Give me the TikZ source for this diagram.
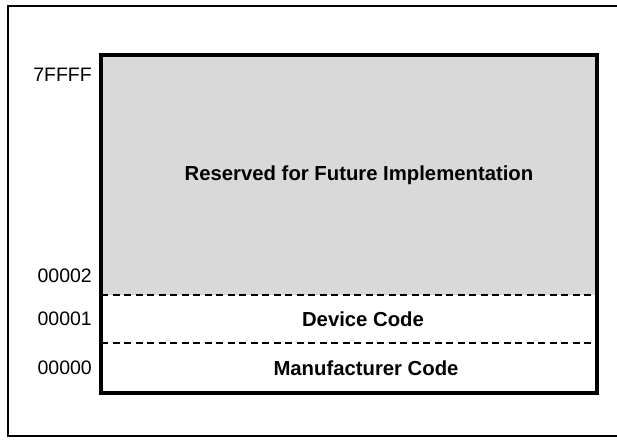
\documentclass[tikz,border=0pt]{standalone}
\usepackage{fontspec}
\setmainfont{Liberation Sans}
\usetikzlibrary{positioning}

\begin{document}
\begin{tikzpicture}[x=1pt,y=-1pt]
  \tikzstyle{region}=[rectangle,inner sep=0,minimum width=496,outer sep=0]
  \tikzstyle{caption}=[font=\fontsize{20.3}{23}\selectfont\bfseries]
  \tikzstyle{addr}=[font=\fontsize{19.5}{22}\selectfont,inner sep=1pt,anchor=east]
  \tikzstyle{split}=[dash pattern=on 7pt off 4.5pt,line width=1.3pt]
  \useasboundingbox (0,0) rectangle (617,439);
  \draw[line width=2.5pt] (624,6) -- (8,6) -- (8,436) -- (624,436);
  \node[region,fill=black!15,minimum height=240] (res) at (349,175) {};
  \node[region,minimum height=48,below=0 of res] (dev) {};
  \node[region,minimum height=50,below=0 of dev] (man) {};
  \draw[line width=3.8pt] (res.north west) rectangle (man.south east);
  \draw[split] (res.south west) -- (res.south east);
  \draw[split] (dev.south west) -- (dev.south east);
  \node[caption] (restext) at ([xshift=10]res.center) {Reserved for Future Implementation};
  \node[caption] (devtext) at ([xshift=14]dev.center) {Device Code};
  \node[caption] (mantext) at ([xshift=17]man.center) {Manufacturer Code};
  \node[addr] (a4) at ([xshift=-8,yshift=-20]res.north west) {7FFFF};
  \node[addr] (a2) at ([xshift=-8,yshift=19]res.south west) {00002};
  \node[addr] (a1) at ([xshift=-8]dev.west) {00001};
  \node[addr] (a0) at ([xshift=-8]man.west) {00000};
\end{tikzpicture}
\end{document}
